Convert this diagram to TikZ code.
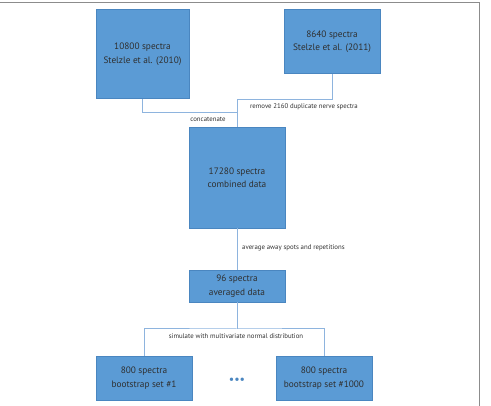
\documentclass[tikz,border=0pt]{standalone}
\usepackage{fontspec}
\setmainfont{PT Sans}
\usepackage{xcolor}
\usetikzlibrary{positioning,calc}
\definecolor{boxblue}{HTML}{5B9BD5}
\definecolor{boxedge}{HTML}{4A86C0}
\definecolor{linkblue}{HTML}{8EB4DE}
\definecolor{textgray}{HTML}{2F2F2F}
\definecolor{framegray}{HTML}{8C8C8C}

\begin{document}
\begin{tikzpicture}[
  x=1pt, y=-1pt,
  font=\fontsize{9.3}{13.5}\selectfont, text=textgray,
  databox/.style={draw=boxedge, line width=0.8pt, fill=boxblue, align=center, inner sep=0pt},
  note/.style={font=\fontsize{6.8}{7.5}\selectfont, inner sep=1pt},
  link/.style={draw=linkblue, line width=1pt},
  ]
  \useasboundingbox (0,0) rectangle (491,406);
  % page frame
  \draw[framegray, line width=1pt] (0,3) -- (479,3) -- (479,406);

  % source data
  \node[databox, minimum width=93pt, minimum height=89pt] (stelzle10) at (142.5,54) {10800 spectra\\Stelzle et al. (2010)};
  \node[databox, minimum width=96pt, minimum height=64pt] (stelzle11) at (332,41.5) {8640 spectra\\Stelzle et al. (2011)};

  % combined and averaged
  \node[databox, minimum width=96pt, minimum height=101pt] (combined) at (237,177.5) {17280 spectra\\combined data};
  \node[databox, minimum width=96pt, minimum height=32pt] (averaged) at (237,286) {96 spectra\\averaged data};

  % bootstrap sets
  \node[databox, minimum width=96pt, minimum height=44pt] (boot1) at (144,378) {800 spectra\\bootstrap set \#1};
  \node[databox, minimum width=96pt, minimum height=44pt] (bootN) at (324,378) {800 spectra\\bootstrap set \#1000};
  \node[text=boxedge, font=\fontsize{12}{12}\selectfont] (dots) at (237,381) {•••};

  % junctions
  \coordinate (jconcat) at (237,113);
  \coordinate (jremove) at (237,100);
  \coordinate (jsim) at (237,329);

  % connectors
  \draw[link] (stelzle10.south) |- (jconcat);
  \draw[link] (stelzle11.south) |- (jremove) -- (combined.north);
  \draw[link] (combined.south) -- (averaged.north);
  \draw[link] (averaged.south) -- (jsim);
  \draw[link] (boot1.north) |- (jsim) -| (bootN.north);

  % labels
  \node[note] (lconcat) at (208,119) {concatenate};
  \node[note] (lremove) at (304,107) {remove 2160 duplicate nerve spectra};
  \node[note, anchor=west] (laverage) at (241,248) {average away spots and repetitions};
  \node[note] (lsim) at (236,336) {simulate with multivariate normal distribution};
\end{tikzpicture}
\end{document}
